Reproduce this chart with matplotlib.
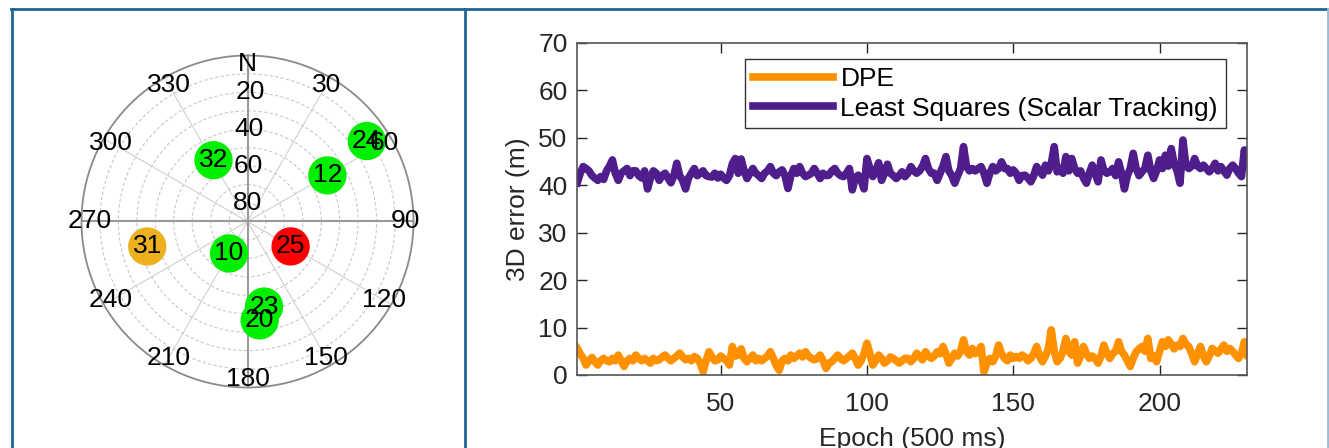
import matplotlib
matplotlib.use('Agg')
import matplotlib.pyplot as plt
from matplotlib.lines import Line2D
import numpy as np

plt.rcParams['font.family'] = ['Liberation Sans', 'DejaVu Sans']

# skyplot data
sat_ids = ['32', '24', '12', '31', '10', '25', '23', '20']
sat_az = [331, 56, 60, 256, 210, 120, 169, 173]
sat_el = [52, 12, 40, 34, 70, 63, 43, 36]
sat_colors = ['#00ee00', '#00ee00', '#00ee00', '#edb120',
              '#00ee00', '#ff0000', '#00ee00', '#00ee00']

az_ticks = [0, 30, 60, 90, 120, 150, 180, 210, 240, 270, 300, 330]
az_labels = ['N', '30', '60', '90', '120', '150', '180', '210', '240', '270', '300', '330']
el_ticks = [20, 40, 60, 80]

# 3D error per epoch (500 ms)
dpe = [
    5.6, 4.5, 3.5, 2.1, 3.0, 3.7, 2.8, 2.1, 3.0, 3.5,
    3.0, 2.8, 3.5, 3.0, 4.2, 3.0, 1.8, 3.0, 3.5, 3.0,
    4.2, 3.5, 3.0, 3.5, 3.0, 2.5, 3.5, 3.0, 3.2, 3.8,
    4.2, 3.5, 3.0, 3.5, 4.0, 4.6, 3.8, 3.2, 3.5, 3.0,
    3.9, 3.5, 2.5, 0.7, 3.0, 4.9, 3.8, 3.0, 3.2, 4.0,
    3.5, 3.0, 2.1, 6.0, 4.0, 4.2, 5.5, 3.5, 2.8, 3.5,
    4.2, 3.0, 3.5, 3.0, 3.5, 4.0, 4.9, 3.5, 2.0, 1.0,
    3.0, 3.5, 3.0, 4.2, 3.5, 4.0, 4.6, 3.8, 4.9, 4.0,
    3.5, 3.2, 3.5, 4.2, 3.0, 1.4, 2.5, 2.8, 3.5, 4.2,
    3.5, 3.0, 3.5, 4.0, 4.6, 3.5, 2.1, 3.0, 4.5, 6.7,
    4.5, 2.1, 3.0, 4.2, 3.5, 2.5, 3.0, 3.8, 3.5, 3.0,
    2.5, 3.0, 3.5, 3.5, 2.8, 3.5, 4.6, 3.8, 3.2, 4.9,
    4.0, 3.5, 4.0, 4.9, 4.5, 6.0, 4.5, 2.5, 3.5, 4.6,
    4.0, 5.0, 7.4, 5.0, 4.2, 5.6, 4.5, 5.0, 6.0, 0.7,
    2.5, 3.5, 2.8, 4.0, 6.3, 4.5, 3.5, 3.0, 4.2, 3.5,
    3.9, 3.5, 4.2, 3.8, 3.0, 3.5, 4.5, 6.0, 3.9, 2.8,
    4.0, 5.5, 9.5, 5.0, 2.8, 3.5, 5.0, 7.7, 5.0, 4.2,
    7.0, 2.5, 4.0, 6.0, 4.5, 3.5, 4.0, 3.5, 2.5, 4.0,
    6.3, 4.5, 3.5, 4.5, 5.0, 7.0, 5.0, 4.2, 3.0, 1.8,
    3.5, 4.9, 5.5, 6.0, 5.0, 7.7, 3.5, 4.0, 2.8, 5.0,
    7.0, 6.0, 7.4, 6.5, 5.5, 6.3, 6.0, 7.7, 6.5, 6.0,
    4.5, 2.8, 4.5, 6.0, 4.0, 2.8, 4.0, 5.6, 5.0, 4.6,
    5.5, 6.3, 5.0, 5.6, 5.0, 4.2, 3.5, 4.5, 7.0, 4.2,
]
least_squares = [
    40.5, 42.5, 43.9, 43.5, 43.0, 42.0, 41.5, 41.0, 41.8, 41.2,
    43.0, 44.0, 45.3, 42.5, 41.0, 42.5, 43.0, 43.5, 42.0, 43.0,
    43.0, 42.0, 41.5, 43.0, 39.2, 41.5, 43.0, 42.5, 41.0, 42.0,
    42.5, 41.5, 40.5, 42.0, 44.6, 42.0, 41.0, 39.2, 41.5, 42.5,
    43.5, 42.0, 42.5, 43.0, 42.0, 41.8, 41.7, 42.5, 41.5, 42.3,
    41.5, 41.0, 42.0, 44.5, 45.6, 42.5, 45.5, 43.0, 41.4, 42.5,
    43.5, 42.5, 42.0, 41.4, 42.5, 43.0, 43.9, 42.5, 42.0, 42.8,
    43.2, 42.0, 39.3, 42.0, 43.5, 42.5, 43.9, 42.5, 41.8, 42.1,
    42.5, 43.5, 42.5, 41.4, 42.5, 42.0, 42.1, 43.0, 43.5, 42.5,
    42.0, 41.8, 42.5, 43.5, 39.0, 41.5, 42.1, 41.0, 39.2, 45.6,
    43.5, 41.8, 43.0, 44.7, 41.0, 42.5, 44.4, 42.5, 42.0, 41.4,
    42.0, 42.8, 41.8, 42.5, 43.9, 43.0, 42.5, 43.0, 44.0, 45.6,
    43.5, 42.5, 42.5, 41.0, 42.5, 44.0, 46.0, 43.0, 42.0, 40.4,
    42.0, 43.5, 48.1, 44.0, 43.0, 43.5, 43.0, 43.5, 43.9, 42.5,
    40.4, 42.5, 43.9, 43.0, 43.5, 44.9, 43.5, 43.5, 42.5, 43.2,
    42.5, 41.0, 42.0, 42.1, 41.5, 40.7, 42.0, 43.9, 43.0, 42.1,
    44.2, 43.0, 44.5, 48.1, 42.8, 43.5, 42.5, 46.0, 43.0, 45.6,
    43.5, 42.5, 43.0, 41.5, 40.4, 42.5, 44.2, 42.5, 40.7, 45.3,
    43.0, 42.5, 42.8, 43.5, 42.0, 44.9, 42.5, 39.2, 42.0, 43.5,
    46.7, 43.5, 42.0, 42.8, 43.5, 46.3, 43.0, 41.4, 43.0, 45.3,
    43.5, 46.3, 44.0, 47.7, 44.5, 43.0, 40.4, 49.5, 44.0, 43.5,
    44.0, 45.6, 44.0, 43.5, 44.2, 43.5, 42.8, 43.5, 44.6, 43.0,
    43.9, 43.0, 42.1, 43.5, 44.2, 43.5, 42.5, 41.8, 47.4, 44.6,
]
epochs = np.arange(1, len(dpe) + 1)

W, H = 1329, 448
FS = 19
fig = plt.figure(figsize=(W / 100, H / 100), dpi=100)

# ---- skyplot ----
cx, cy, R = 247.5, 221.5, 166
ax1 = fig.add_axes([(cx - R) / W, 1 - (cy + R) / H, 2 * R / W, 2 * R / H],
                   projection='polar')
ax1.set_theta_zero_location('N')
ax1.set_theta_direction(-1)
ax1.set_ylim(0, 90)
ax1.set_xticks([])
ax1.set_yticks([])
ax1.grid(False)
ax1.spines['polar'].set_color('#8a8a8a')
ax1.spines['polar'].set_linewidth(1.3)

th = np.linspace(0, 2 * np.pi, 361)
for r in range(10, 90, 10):
    ax1.plot(th, np.full_like(th, r), color='#c8c8c8', lw=0.8, ls=(0, (3, 2)), zorder=1)
for a in range(0, 360, 30):
    if a % 90 == 0:
        continue
    ax1.plot([np.deg2rad(a)] * 2, [0, 90], color='#d0d0d0', lw=0.8, zorder=1)
for a in (0, 90):
    ax1.plot([np.deg2rad(a), np.deg2rad(a + 180)], [90, 90], color='#9a9a9a', lw=1.5, zorder=1)

r_sat = 90 - np.array(sat_el)
ax1.scatter(np.deg2rad(sat_az), r_sat, s=760, c=sat_colors, edgecolors='none', zorder=3)
for sid, a, r in zip(sat_ids, sat_az, r_sat):
    ax1.text(np.deg2rad(a), r, sid, ha='center', va='center', fontsize=FS, zorder=4)

for a, lab in zip(az_ticks, az_labels):
    ax1.text(np.deg2rad(a), 85.5, lab, ha='center', va='center', fontsize=FS, zorder=5)
for e in el_ticks:
    ax1.text(0.02, 90 - e, str(e), ha='center', va='center', fontsize=FS, zorder=5)

# ---- error plot ----
x0, x1, y0, y1 = 577.3, 1247.3, 42.7, 375
ax2 = fig.add_axes([x0 / W, 1 - y1 / H, (x1 - x0) / W, (y1 - y0) / H])
ax2.plot(epochs, dpe, color='#ff9100', lw=5.5, label='DPE')
ax2.plot(epochs, least_squares, color='#4f1e8c', lw=5.5, label='Least Squares (Scalar Tracking)')
ax2.set_xlim(1, 230)
ax2.set_ylim(0, 70)
ax2.set_xticks([50, 100, 150, 200])
ax2.set_yticks(range(0, 80, 10))
ax2.tick_params(direction='in', length=7, width=1, top=True, right=True,
                labelsize=FS, colors='#262626')
ax2.tick_params(axis='x', pad=12)
ax2.tick_params(axis='y', pad=7)
for s in ax2.spines.values():
    s.set_color('#555555')
    s.set_linewidth(1.2)
ax2.set_xlabel('Epoch (500 ms)', fontsize=FS, color='#262626', labelpad=8)
ax2.set_ylabel('3D error (m)', fontsize=FS, color='#262626', labelpad=6)
leg = ax2.legend(loc='upper right', bbox_to_anchor=(0.968, 0.95), borderaxespad=0,
                 fontsize=FS, frameon=True, fancybox=False, framealpha=1,
                 handlelength=3.0, handletextpad=0.3, borderpad=0.3, labelspacing=0.2)
leg.get_frame().set_edgecolor('#333333')
leg.get_frame().set_linewidth(1.0)

# ---- panel frame ----
def fline(xs, ys, color):
    fig.add_artist(Line2D([x / W for x in xs], [1 - y / H for y in ys],
                          color=color, lw=2, transform=fig.transFigure))

fline([12, 12], [9, H + 5], '#1f6591')
fline([11, 1329], [9, 9], '#1f6591')
fline([465, 465], [9, H + 5], '#1f6591')
fline([1327.5, 1327.5], [9, H + 5], '#9dbdd2')

fig.savefig('out.png', dpi=100)
